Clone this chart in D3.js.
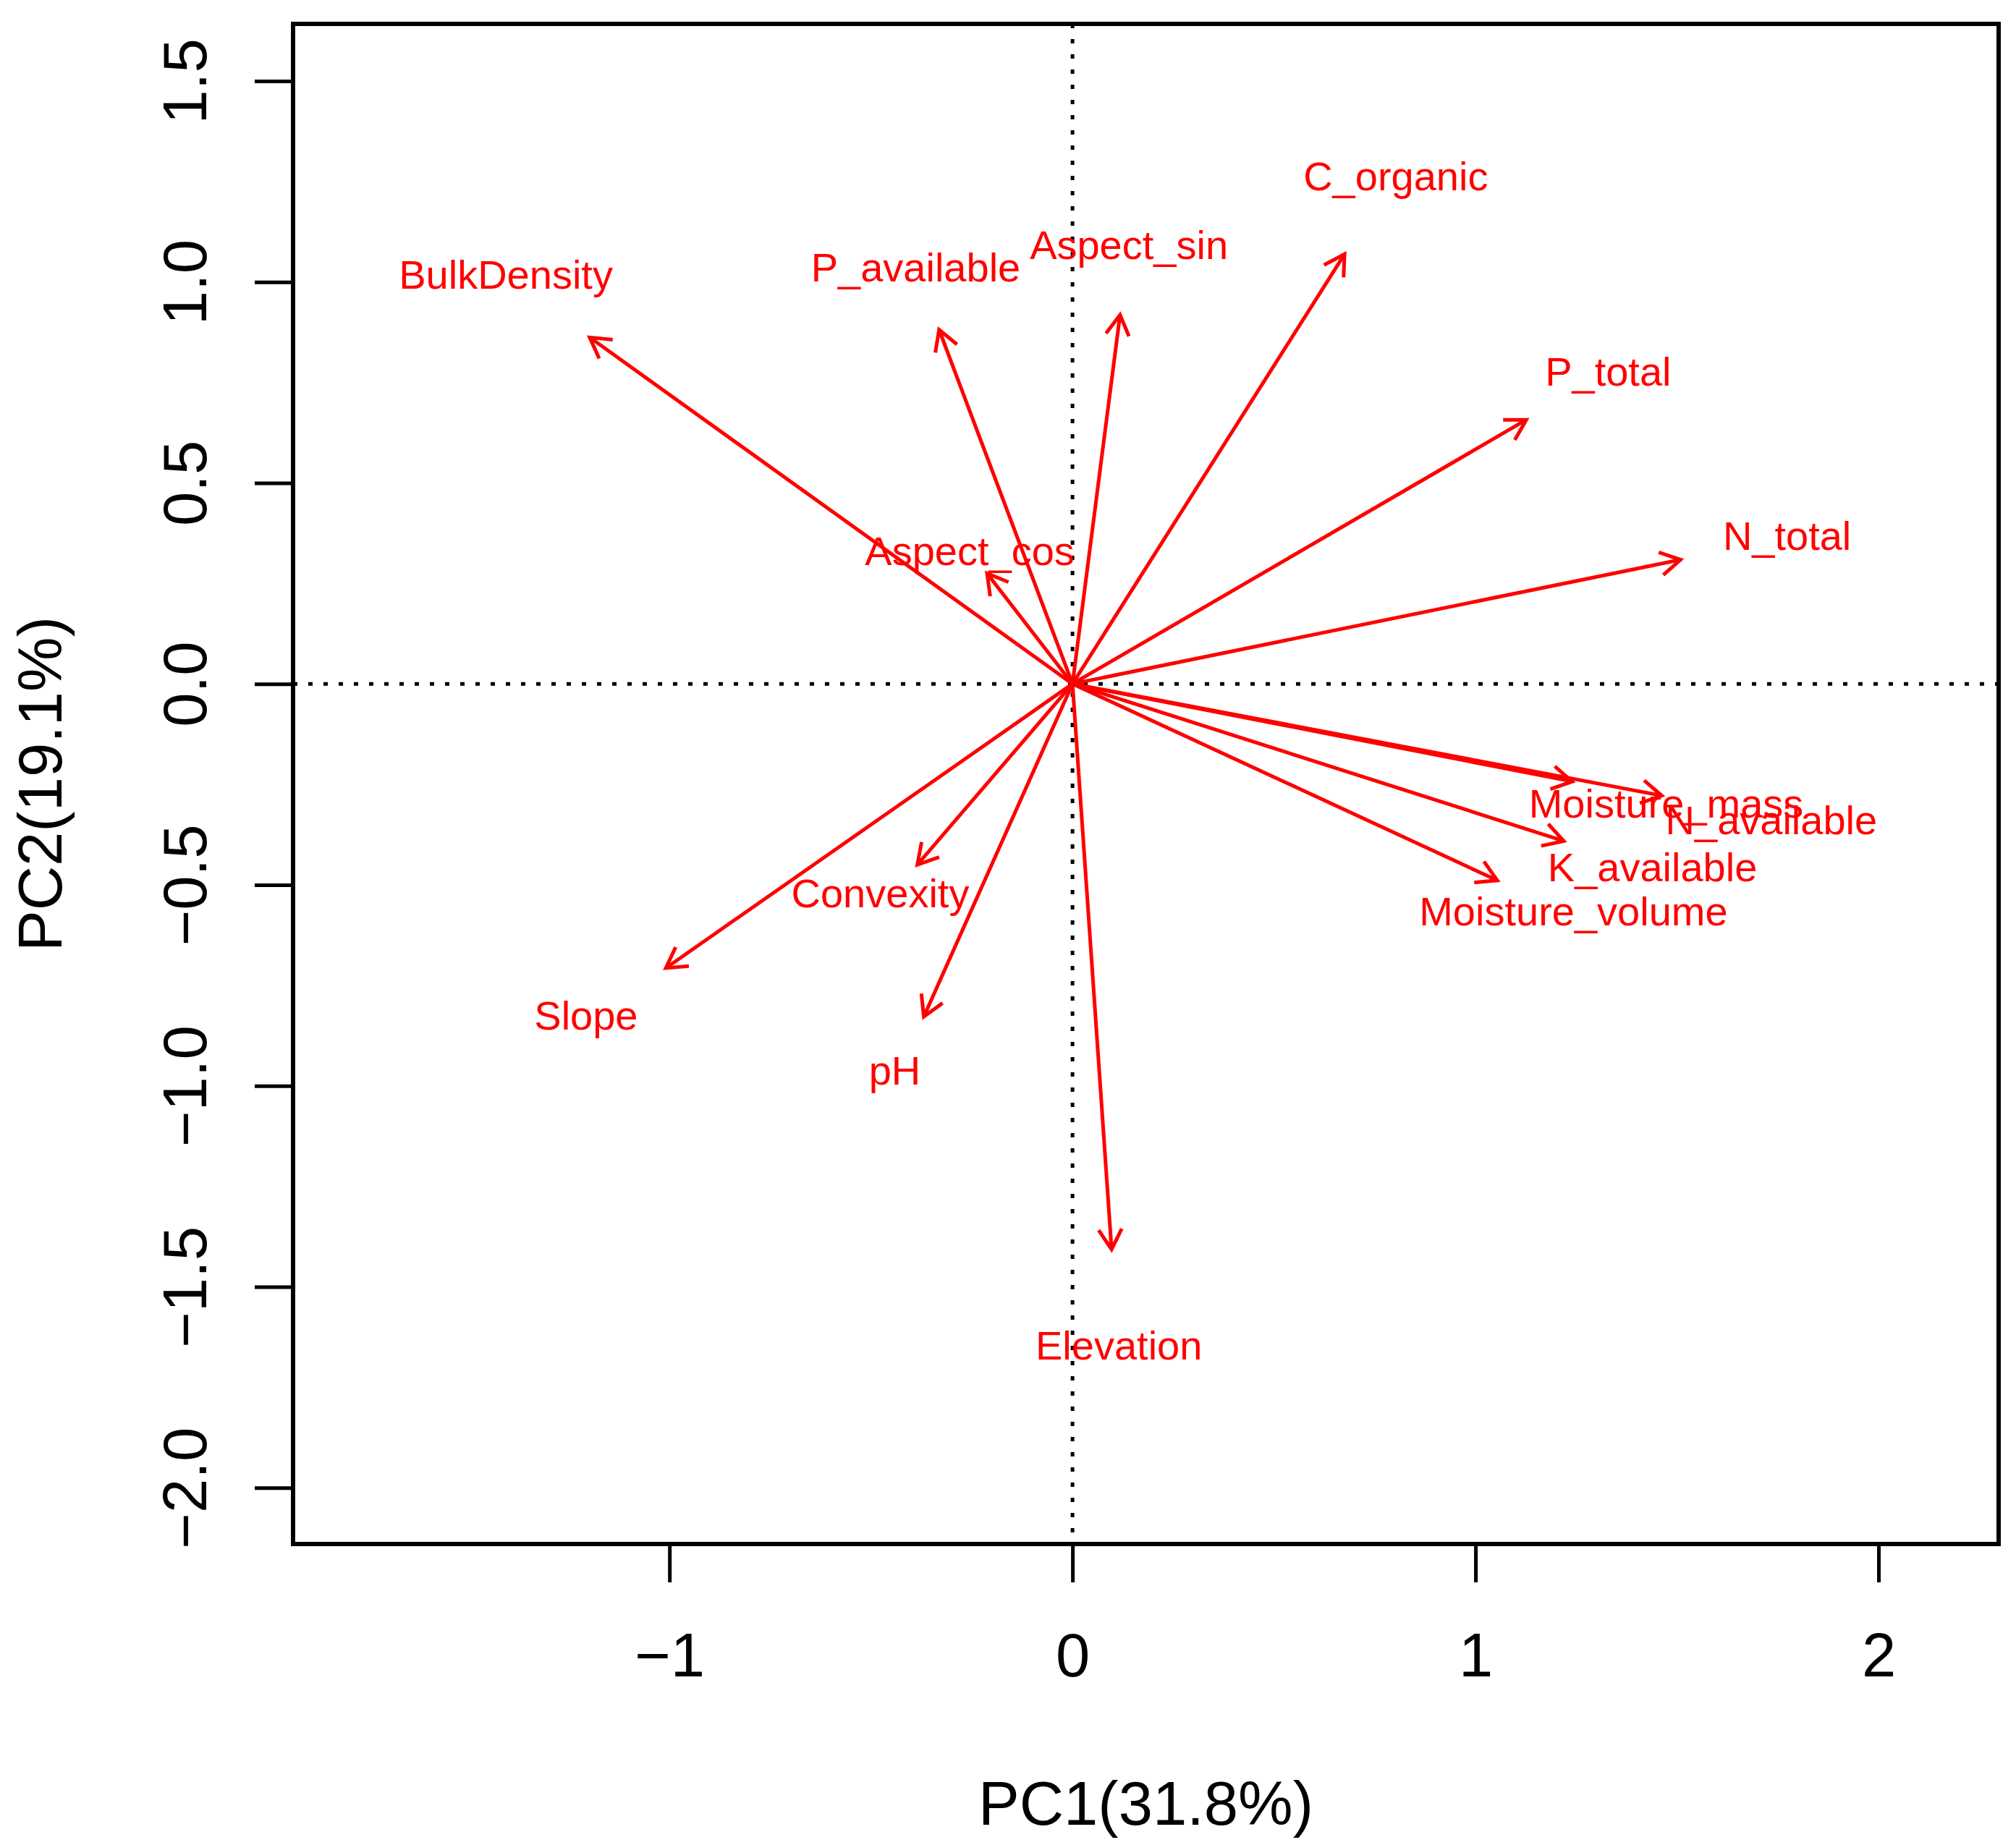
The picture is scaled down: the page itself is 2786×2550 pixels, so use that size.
<!DOCTYPE html>
<html>
<head>
<meta charset="utf-8">
<script src="https://cdn.jsdelivr.net/npm/d3@7"></script>
<style>
  body { margin: 0; background: #fff; }
  text { font-family: "Liberation Sans", Arial, sans-serif; }
</style>
</head>
<body>
<svg width="2786" height="2550"></svg>
<script>
// variable names and loading arrow tips (PC1, PC2)
var variables = ["BulkDensity", "P_available", "Aspect_sin", "C_organic", "P_total", "N_total",
  "Aspect_cos", "Moisture_mass", "N_available", "K_available", "Moisture_volume",
  "Convexity", "Slope", "pH", "Elevation"];
var pc1 = [-1.198, -0.331, 0.118, 0.675, 1.126, 1.509, -0.212, 1.240, 1.462, 1.219, 1.054, -0.385, -1.009, -0.369, 0.097];
var pc2 = [0.862, 0.881, 0.918, 1.069, 0.657, 0.309, 0.275, -0.243, -0.278, -0.391, -0.489, -0.450, -0.707, -0.828, -1.407];

// label positions as they sit in the plot
var labelX = [-1.406, -0.389, 0.140, 0.802, 1.329, 1.773, -0.255, 1.473, 1.734, 1.439, 1.243, -0.477, -1.207, -0.441, 0.115];
var labelY = [1.019, 1.037, 1.093, 1.264, 0.778, 0.369, 0.331, -0.297, -0.337, -0.454, -0.565, -0.520, -0.823, -0.961, -1.645];

var xTicks = [-1, 0, 1, 2];
var yTicks = [-2.0, -1.5, -1.0, -0.5, 0.0, 0.5, 1.0, 1.5];
var xTitle = "PC1(31.8%)";
var yTitle = "PC2(19.1%)";

var svg = d3.select("svg"),
  margin = { top: 33, right: 24, bottom: 416, left: 405 },
  width = +svg.attr("width") - margin.left - margin.right,
  height = +svg.attr("height") - margin.top - margin.bottom;

var x = d3.scaleLinear().domain([-1.934, 2.298]).range([margin.left, margin.left + width]);
var y = d3.scaleLinear().domain([-2.140, 1.642]).range([margin.top + height, margin.top]);

var fmtY = function(d) { return (d < 0 ? "\u2212" : "") + Math.abs(d).toFixed(1); };
var fmtX = function(d) { return (d < 0 ? "\u2212" : "") + Math.abs(d); };

// dotted reference lines through the origin
svg.append("line")
  .attr("x1", x(0)).attr("x2", x(0))
  .attr("y1", margin.top).attr("y2", margin.top + height)
  .attr("stroke", "#000").attr("stroke-width", 5).attr("stroke-dasharray", "6,15");
svg.append("line")
  .attr("x1", margin.left).attr("x2", margin.left + width)
  .attr("y1", y(0)).attr("y2", y(0))
  .attr("stroke", "#000").attr("stroke-width", 5).attr("stroke-dasharray", "6,15");

// arrows
var red = "#ff0000";
var headLen = 32, headAng = Math.PI / 6;
var g = svg.append("g").attr("class", "arrows");
variables.forEach(function(v, i) {
  var x0 = x(0), y0 = y(0), x1 = x(pc1[i]), y1 = y(pc2[i]);
  var a = Math.atan2(y1 - y0, x1 - x0);
  g.append("line")
    .attr("x1", x0).attr("y1", y0).attr("x2", x1).attr("y2", y1)
    .attr("stroke", red).attr("stroke-width", 5);
  var p = d3.path();
  p.moveTo(x1 - headLen * Math.cos(a - headAng), y1 - headLen * Math.sin(a - headAng));
  p.lineTo(x1, y1);
  p.lineTo(x1 - headLen * Math.cos(a + headAng), y1 - headLen * Math.sin(a + headAng));
  g.append("path").attr("d", p.toString())
    .attr("fill", "none").attr("stroke", red).attr("stroke-width", 5)
    .attr("stroke-linejoin", "miter");
});

// variable labels
svg.append("g").selectAll("text")
  .data(variables)
  .enter()
  .append("text")
  .attr("x", function(d, i) { return x(labelX[i]); })
  .attr("y", function(d, i) { return y(labelY[i]); })
  .attr("dy", "0.36em")
  .attr("text-anchor", "middle")
  .attr("font-size", 56)
  .attr("fill", red)
  .text(function(d) { return d; });

// frame
svg.append("rect")
  .attr("x", margin.left).attr("y", margin.top)
  .attr("width", width).attr("height", height)
  .attr("fill", "none").attr("stroke", "#000").attr("stroke-width", 6);

// x axis
var xa = svg.append("g")
  .attr("transform", "translate(0," + (margin.top + height) + ")")
  .call(d3.axisBottom(x).tickValues(xTicks).tickSize(53).tickPadding(0).tickFormat(fmtX));
xa.select(".domain").remove();
xa.selectAll(".tick line").attr("stroke-width", 5);
xa.selectAll(".tick text")
  .attr("font-size", 85).attr("font-family", "Liberation Sans, Arial, sans-serif")
  .attr("fill", "#000").attr("dy", null).attr("y", 183);

// y axis
var ya = svg.append("g")
  .attr("transform", "translate(" + margin.left + ",0)")
  .call(d3.axisLeft(y).tickValues(yTicks).tickSize(53).tickFormat(fmtY));
ya.select(".domain").remove();
ya.selectAll(".tick line").attr("stroke-width", 5);
ya.selectAll(".tick text")
  .attr("font-size", 85).attr("font-family", "Liberation Sans, Arial, sans-serif")
  .attr("fill", "#000")
  .attr("x", null).attr("dy", null)
  .attr("text-anchor", "middle")
  .attr("transform", "translate(-120,0) rotate(-90)");

// axis titles
svg.append("text")
  .attr("x", margin.left + width / 2)
  .attr("y", 2522)
  .attr("text-anchor", "middle")
  .attr("font-size", 85)
  .text(xTitle);
svg.append("text")
  .attr("transform", "translate(85," + (margin.top + height / 2) + ") rotate(-90)")
  .attr("text-anchor", "middle")
  .attr("font-size", 85)
  .text(yTitle);
</script>
</body>
</html>
